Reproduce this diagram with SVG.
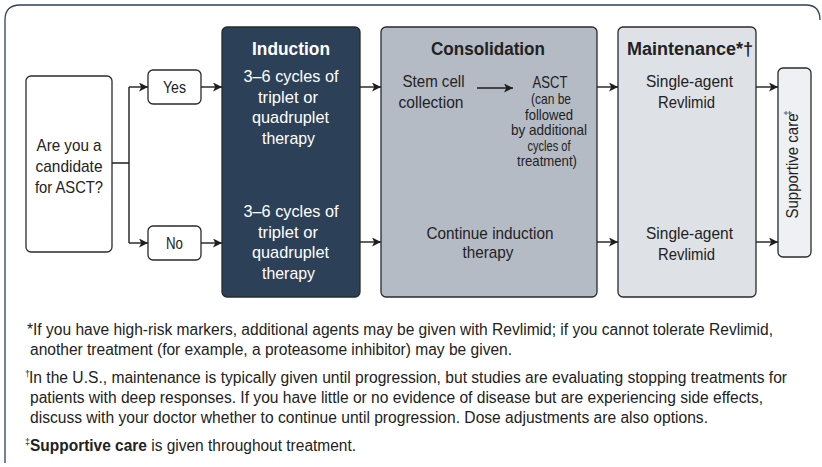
<svg xmlns="http://www.w3.org/2000/svg" width="822" height="467" viewBox="0 0 822 467">
<defs>
<marker id="ah" viewBox="0 0 10 10" refX="10" refY="5" markerWidth="11" markerHeight="9" markerUnits="userSpaceOnUse" orient="auto">
<path d="M0,0 L10,5 L0,10 L2.5,5 Z" fill="#1e1e1e"/>
</marker>
<style>
text{font-family:"Liberation Sans",Arial,sans-serif;fill:#222;}
.box{stroke:#2a2a2a;stroke-width:1.3;}
.t{font-size:17px;text-anchor:middle;}
.s{font-size:14.5px;text-anchor:middle;}
.h{font-size:18px;font-weight:bold;text-anchor:middle;}
.w{fill:#ffffff;}
.fn{font-size:16px;}
.sup{font-size:9px;}
.c{fill:none;stroke:#1e1e1e;stroke-width:1.4;}
</style>
</defs>
<rect width="822" height="467" fill="#ffffff"/>
<path d="M5,463 L5,20 Q5,5 20,5 L806,5 Q820,5 820,20" fill="none" stroke="#2c4058" stroke-width="1.3"/>
<g id="question">
<rect class="box" x="26" y="76" width="86" height="176" rx="5" fill="#ffffff"/>
<text class="t" x="69" y="151" textLength="65" lengthAdjust="spacingAndGlyphs">Are you a</text>
<text class="t" x="69" y="172" textLength="67" lengthAdjust="spacingAndGlyphs">candidate</text>
<text class="t" x="69" y="193" textLength="68" lengthAdjust="spacingAndGlyphs">for ASCT?</text>
</g>
<g id="yes">
<rect class="box" x="148" y="70" width="53" height="34" rx="5" fill="#ffffff"/>
<text class="t" x="174.5" y="93" textLength="23" lengthAdjust="spacingAndGlyphs">Yes</text>
</g>
<g id="no">
<rect class="box" x="148" y="226" width="53" height="34" rx="5" fill="#ffffff"/>
<text class="t" x="174.5" y="249" textLength="17" lengthAdjust="spacingAndGlyphs">No</text>
</g>
<g id="induction">
<rect class="box" x="222" y="27" width="138" height="270" rx="5" fill="#2c4058"/>
<text class="h w" x="291" y="55" textLength="78" lengthAdjust="spacingAndGlyphs">Induction</text>
<text class="t w" x="291" y="82" textLength="95" lengthAdjust="spacingAndGlyphs">3–6 cycles of</text>
<text class="t w" x="288" y="102.5" textLength="60" lengthAdjust="spacingAndGlyphs">triplet or</text>
<text class="t w" x="290.5" y="123" textLength="77" lengthAdjust="spacingAndGlyphs">quadruplet</text>
<text class="t w" x="288.5" y="143.5" textLength="53" lengthAdjust="spacingAndGlyphs">therapy</text>
<text class="t w" x="291" y="217" textLength="95" lengthAdjust="spacingAndGlyphs">3–6 cycles of</text>
<text class="t w" x="288" y="237.5" textLength="60" lengthAdjust="spacingAndGlyphs">triplet or</text>
<text class="t w" x="290.5" y="258" textLength="77" lengthAdjust="spacingAndGlyphs">quadruplet</text>
<text class="t w" x="288.5" y="278.5" textLength="53" lengthAdjust="spacingAndGlyphs">therapy</text>
</g>
<g id="consolidation">
<rect class="box" x="381" y="27" width="216" height="270" rx="5" fill="#b5bbc5"/>
<text class="h" x="488" y="55" textLength="114" lengthAdjust="spacingAndGlyphs">Consolidation</text>
<text class="t" x="433.5" y="87" textLength="62" lengthAdjust="spacingAndGlyphs">Stem cell</text>
<text class="t" x="431" y="108" textLength="65" lengthAdjust="spacingAndGlyphs">collection</text>
<text class="t" x="550" y="88" textLength="35" lengthAdjust="spacingAndGlyphs">ASCT</text>
<text class="s" x="551" y="104" textLength="40" lengthAdjust="spacingAndGlyphs">(can be</text>
<text class="s" x="549" y="119.5" textLength="48" lengthAdjust="spacingAndGlyphs">followed</text>
<text class="s" x="549" y="135" textLength="76" lengthAdjust="spacingAndGlyphs">by additional</text>
<text class="s" x="549" y="150.5" textLength="43" lengthAdjust="spacingAndGlyphs">cycles of</text>
<text class="s" x="547" y="166" textLength="60" lengthAdjust="spacingAndGlyphs">treatment)</text>
<text class="t" x="490" y="239" textLength="127" lengthAdjust="spacingAndGlyphs">Continue induction</text>
<text class="t" x="488" y="258" textLength="51" lengthAdjust="spacingAndGlyphs">therapy</text>
</g>
<g id="maintenance">
<rect class="box" x="618" y="27" width="138" height="270" rx="5" fill="#dee1e6"/>
<text class="h" x="690" y="55" textLength="126" lengthAdjust="spacingAndGlyphs">Maintenance*†</text>
<text class="t" x="689.5" y="87" textLength="87" lengthAdjust="spacingAndGlyphs">Single-agent</text>
<text class="t" x="686.5" y="108" textLength="57" lengthAdjust="spacingAndGlyphs">Revlimid</text>
<text class="t" x="689.5" y="239" textLength="87" lengthAdjust="spacingAndGlyphs">Single-agent</text>
<text class="t" x="686.5" y="260" textLength="57" lengthAdjust="spacingAndGlyphs">Revlimid</text>
</g>
<g id="supportive">
<rect class="box" x="778" y="68" width="33" height="189" rx="5" fill="#eef0f3"/>
<text class="t" transform="translate(798,166) rotate(-90)" x="0" y="0" textLength="105" lengthAdjust="spacingAndGlyphs">Supportive care</text>
<text class="sup" transform="translate(791,113) rotate(-90)" x="0" y="0" text-anchor="middle">‡</text>
</g>
<g id="connectors">
<path class="c" d="M112,163 H129 M129,87 V243"/>
<path class="c" d="M129,87 H148" marker-end="url(#ah)"/>
<path class="c" d="M129,243 H148" marker-end="url(#ah)"/>
<path class="c" d="M201,87 H222" marker-end="url(#ah)"/>
<path class="c" d="M201,243 H222" marker-end="url(#ah)"/>
<path class="c" d="M360,87 H381" marker-end="url(#ah)"/>
<path class="c" d="M360,242 H381" marker-end="url(#ah)"/>
<path class="c" d="M477,88 H513" marker-end="url(#ah)"/>
<path class="c" d="M597,87 H618" marker-end="url(#ah)"/>
<path class="c" d="M597,242 H618" marker-end="url(#ah)"/>
<path class="c" d="M756,87 H778" marker-end="url(#ah)"/>
<path class="c" d="M756,242 H778" marker-end="url(#ah)"/>
</g>
<g id="footnotes">
<text class="fn" x="27" y="335" textLength="746" lengthAdjust="spacingAndGlyphs">*If you have high-risk markers, additional agents may be given with Revlimid; if you cannot tolerate Revlimid,</text>
<text class="fn" x="30" y="355" textLength="482" lengthAdjust="spacingAndGlyphs">another treatment (for example, a proteasome inhibitor) may be given.</text>
<text class="sup" x="25" y="377">†</text>
<text class="fn" x="29" y="383" textLength="758" lengthAdjust="spacingAndGlyphs">In the U.S., maintenance is typically given until progression, but studies are evaluating stopping treatments for</text>
<text class="fn" x="30" y="403" textLength="733" lengthAdjust="spacingAndGlyphs">patients with deep responses. If you have little or no evidence of disease but are experiencing side effects,</text>
<text class="fn" x="30" y="423" textLength="678" lengthAdjust="spacingAndGlyphs">discuss with your doctor whether to continue until progression. Dose adjustments are also options.</text>
<text class="sup" x="25" y="445">‡</text>
<text class="fn" x="30" y="451" textLength="326" lengthAdjust="spacingAndGlyphs"><tspan font-weight="bold">Supportive care</tspan> is given throughout treatment.</text>
</g>
</svg>
